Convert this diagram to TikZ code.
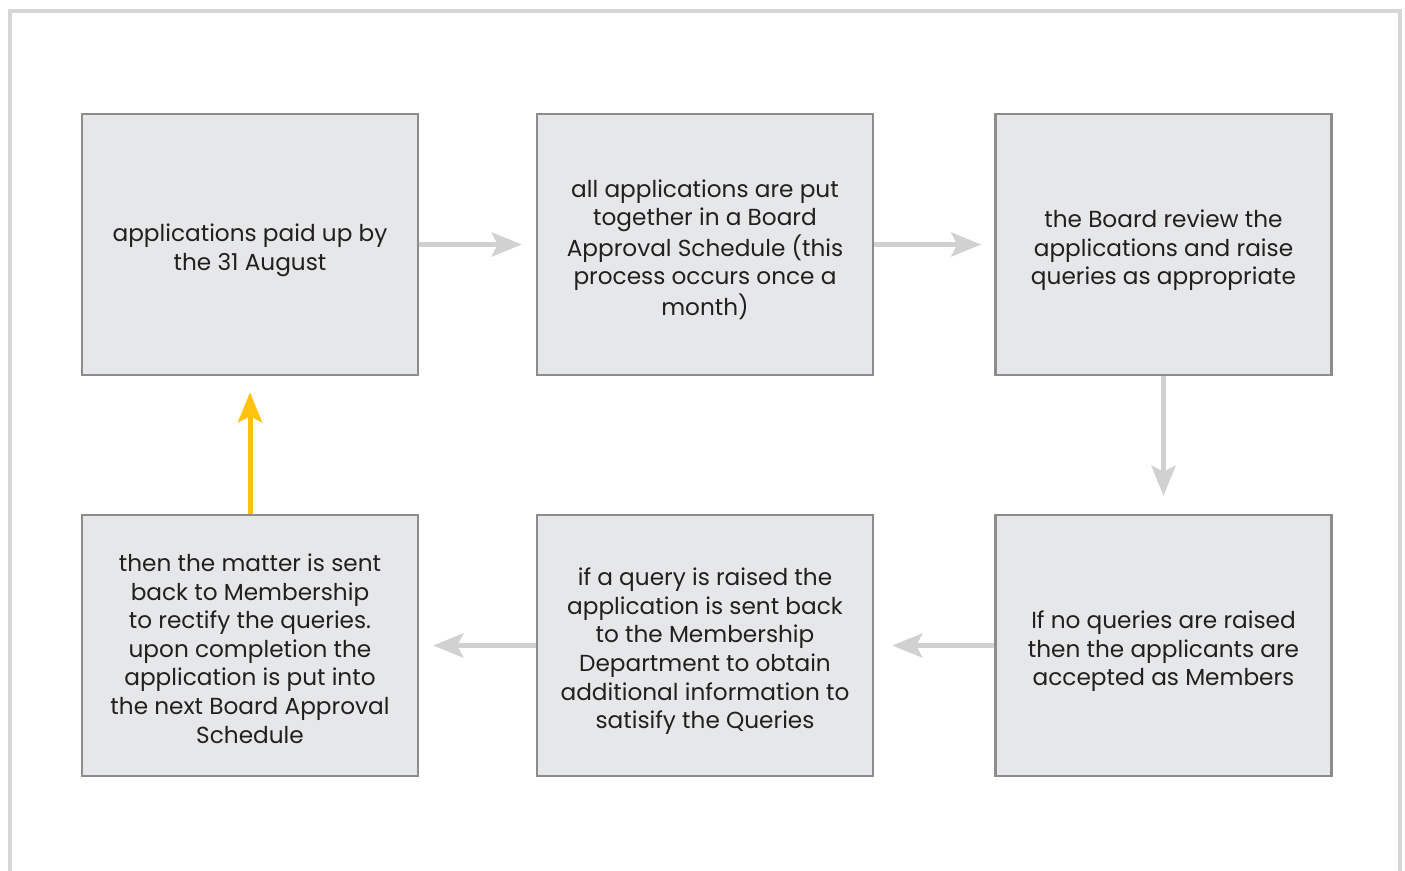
\documentclass[tikz,border=0pt]{standalone}
\usepackage{fontspec}
\setmainfont{Poppins}
\usetikzlibrary{arrows.meta}

\definecolor{boxfill}{HTML}{E6E7E8}
\definecolor{boxline}{HTML}{8C8C8C}
\definecolor{flowgray}{HTML}{D1D1D1}
\definecolor{flowgold}{HTML}{FFC20E}
\definecolor{framegray}{HTML}{D6D6D6}
\definecolor{txt}{HTML}{231F20}

% centred lines, with a little extra room on top
\newcommand{\steplines}[1]{\raisebox{0pt}[\dimexpr\height+12pt\relax][\depth]{%
  \begin{tabular}{@{}c@{}}#1\end{tabular}}}

\tikzset{
  stepbox/.style={draw=boxline,fill=boxfill,line width=2.5pt,
    minimum width=336pt,minimum height=261pt,inner sep=0pt,
    text=txt,font=\fontsize{23.2}{28.6}\selectfont},
  flow/.style={draw=flowgray,line width=5pt,
    -{Stealth[length=30pt,width=24pt,inset=6pt]}},
}

\begin{document}
\begin{tikzpicture}[x=1pt,y=-1pt]
  \useasboundingbox (0,0) rectangle (1405,870);
  \draw[framegray,line width=4pt] (10,872) -- (10,11) -- (1400,11) -- (1400,872);
  % upper row
  \node[stepbox] (paid) at (250,244.5) {\steplines{applications paid up by\\the 31 August}};
  \node[stepbox] (sched) at (705,244.5) {\steplines{all applications are put\\together in a Board\\Approval Schedule (this\\process occurs once a\\month)}};
  \node[stepbox] (review) at (1163.5,244.5) {\steplines{the Board review the\\applications and raise\\queries as appropriate}};
  % lower row
  \node[stepbox] (accept) at (1163.5,645.5) {\steplines{If no queries are raised\\then the applicants are\\accepted as Members}};
  \node[stepbox] (query) at (705,645.5) {\steplines{if a query is raised the\\application is sent back\\to the Membership\\Department to obtain\\additional information to\\satisify the Queries}};
  \node[stepbox] (resend) at (250,645.5) {\steplines{then the matter is sent\\back to Membership\\to rectify the queries.\\upon completion the\\application is put into\\the next Board Approval\\Schedule}};
  \draw[flow,shorten >=14pt] (paid) -- (sched);
  \draw[flow,shorten >=13pt] (sched) -- (review);
  \draw[flow,shorten >=18pt] (review) -- (accept);
  \draw[flow,shorten >=18pt] (accept) -- (query);
  \draw[flow,shorten >=14pt] (query) -- (resend);
  \draw[flow,draw=flowgold,shorten >=16pt] (resend.north) -- (paid.south);
\end{tikzpicture}
\end{document}
